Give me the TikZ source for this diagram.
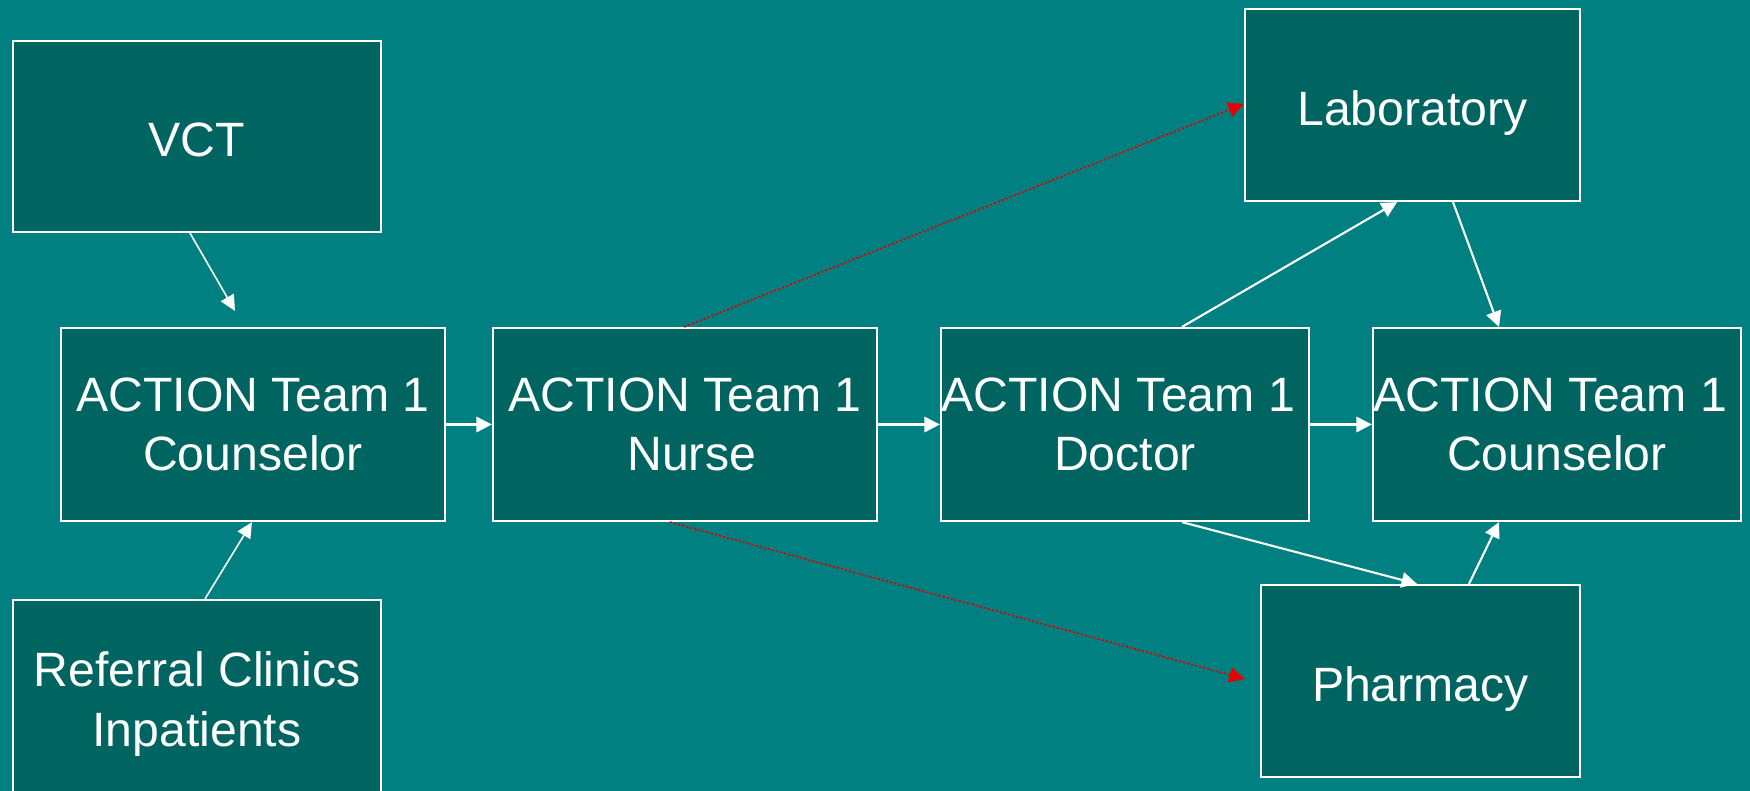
\documentclass[tikz,border=0pt]{standalone}
\usepackage{fontspec}
\setmainfont{Liberation Sans}
\usetikzlibrary{arrows.meta,calc}
\definecolor{bgteal}{RGB}{0,128,128}
\definecolor{boxteal}{RGB}{0,101,97}
\definecolor{redline}{RGB}{230,0,0}
\newcommand{\padsp}{\rule{3.8pt}{0pt}}
\begin{document}
\begin{tikzpicture}[x=0.01cm,y=-0.01cm,
  box/.style={draw=white,line width=0.6pt,fill=boxteal,rectangle,inner sep=0pt,
    minimum height=1.92cm,text=white,align=center,
    font=\fontsize{13.7pt}{17pt}\selectfont},
  single/.style={text height=11.4pt,text depth=0pt},
  conn/.style={draw=white,line width=0.6pt,-{Triangle[length=4.4pt,width=4.4pt]}},
  thinconn/.style={draw=white,line width=0.45pt,-{Triangle[length=4.4pt,width=4.2pt]}},
  redconn/.style={draw=redline,line width=0.5pt,dash pattern=on 0.6pt off 0.6pt,
    -{Triangle[length=4.4pt,width=4.4pt,fill=redline,line width=0pt]}}]
\fill[bgteal] (0,0) rectangle (1750,791);
\useasboundingbox (0,0) rectangle (1750,791);
\node[box,single,minimum width=3.68cm,minimum height=1.91cm] (vct) at (197,136.5) {VCT};
\node[box,minimum width=3.84cm,minimum height=1.93cm] (c1) at (253,424.5) {ACTION Team 1\\Counselor};
\node[box,minimum width=3.84cm,minimum height=1.93cm] (nurse) at (685,424.5) {ACTION Team 1\\\padsp Nurse};
\node[box,minimum width=3.68cm,minimum height=1.93cm] (doc) at (1125,424.5) {ACTION Team 1\padsp\\Doctor};
\node[box,minimum width=3.68cm,minimum height=1.93cm] (c2) at (1557,424.5) {ACTION Team 1\padsp\\Counselor};
\node[box,single,minimum width=3.35cm] (lab) at (1412.5,105) {Laboratory};
\node[box,single,minimum width=3.19cm] (ph) at (1420.5,681) {Pharmacy};
\node[box,minimum width=3.68cm,minimum height=2.08cm] (ref) at (197,704) {Referral Clinics\\Inpatients};
\draw[thinconn] ($(vct.south)+(-7,0)$) -- ($(c1.north)+(-18,-16)$);
\draw[thinconn] ($(ref.north)+(8,0)$) -- ($(c1.south)+(-1,0)$);
\draw[conn] (c1.east) -- (nurse.west);
\draw[conn] (nurse.east) -- (doc.west);
\draw[conn] (doc.east) -- (c2.west);
\draw[conn] ($(doc.north)+(57,0)$) -- ($(lab.south)+(-15.5,0)$);
\draw[conn] ($(lab.south)+(40.5,0)$) -- ($(c2.north)+(-58,0)$);
\draw[conn] ($(doc.south)+(57,0)$) -- ($(ph.north)+(-3.5,0)$);
\draw[conn] ($(ph.north)+(48.5,0)$) -- ($(c2.south)+(-58,0)$);
\draw[redconn] ($(nurse.north)+(-1,0)$) -- ($(lab.west)+(0,-1)$);
\draw[redconn] ($(nurse.south)+(-15,0)$) -- ($(ph.west)+(-15,-2)$);
\end{tikzpicture}
\end{document}
